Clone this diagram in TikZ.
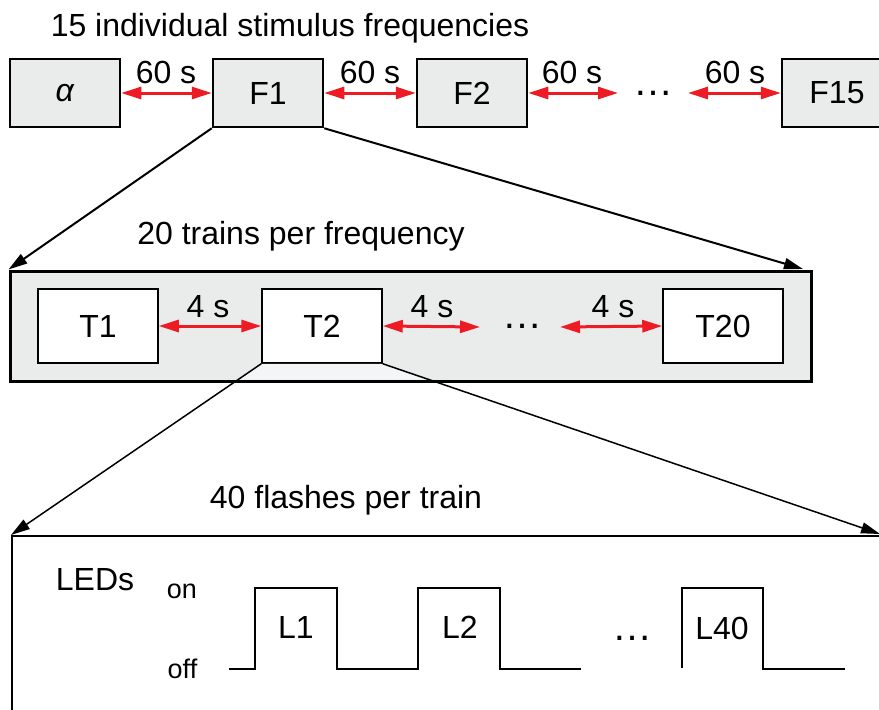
\documentclass[tikz,border=0pt]{standalone}
\usepackage{fontspec}
\setmainfont{Liberation Sans}
\usetikzlibrary{arrows.meta}
\definecolor{boxgray}{RGB}{234,235,235}
\definecolor{lightgray2}{RGB}{244,245,246}
\definecolor{arrred}{RGB}{237,28,36}
\begin{document}
\begin{tikzpicture}[x=1pt,y=-1pt,
  txt/.style={font=\fontsize{32}{38}\selectfont, inner sep=0pt},
  small/.style={font=\fontsize{27}{32}\selectfont, inner sep=0pt},
  dotsty/.style={font=\fontsize{40}{46}\selectfont, inner sep=0pt},
  fbox/.style={draw, line width=2.5pt, fill=boxgray, minimum width=110pt, minimum height=68pt, inner sep=0pt, font=\fontsize{32}{38}\selectfont},
  tbox/.style={draw, line width=1.5pt, fill=white, minimum width=120pt, minimum height=74pt, inner sep=0pt, font=\fontsize{32}{38}\selectfont},
  redarr/.style={draw=arrred, line width=3pt, {Triangle[length=20pt,width=12pt]}-{Triangle[length=20pt,width=12pt]}},
  zoomarr/.style={draw=black, -{Triangle[length=19pt,width=11pt]}},
  pulse/.style={line width=2.5pt, line join=miter}
]
\useasboundingbox (0,0) rectangle (879,710);
\clip (0,0) rectangle (879,710);

% ---------- top row ----------
\node[txt, anchor=base] (title1) at (290,36) {15 individual stimulus frequencies};
\node[fbox] (alpha) at (65,93) {\textit{α}};
\node[fbox] (F1) at (268,93) {F1};
\node[fbox] (F2) at (472,93) {F2};
\node[fbox] (F15) at (837,93) {F15};
\coordinate (d1l) at (618,93);
\coordinate (d1r) at (688,93);
\node[dotsty] (dots1) at (653,93) {…};
\draw[redarr] (alpha.east) -- (F1.west);
\draw[redarr] (F1.east) -- (F2.west);
\draw[redarr] (F2.east) -- (d1l);
\draw[redarr] (d1r) -- (F15.west);
\node[txt, anchor=base] (s1) at (166,83) {60 s};
\node[txt, anchor=base] (s2) at (370,83) {60 s};
\node[txt, anchor=base] (s3) at (572,83) {60 s};
\node[txt, anchor=base] (s4) at (735,83) {60 s};

% ---------- middle row ----------
\node[txt, anchor=base] (title2) at (301,244) {20 trains per frequency};
\node[draw, line width=3pt, fill=boxgray, minimum width=801pt, minimum height=110pt, inner sep=0pt] (trains) at (410.5,326) {};
\coordinate (tipR1) at (803,269);
\draw[zoomarr, line width=2pt] (F1.south west) -- (trains.north west);
\draw[zoomarr, line width=2pt] (F1.south east) -- (tipR1);

\node[tbox] (T1) at (98,326) {T1};
\node[tbox] (T2) at (322,326) {T2};
\node[tbox] (T20) at (723,326) {T20};
\fill[lightgray2] (T2.south west) -- (T2.south east) -- (430.8,379.5) -- (237.6,379.5) -- cycle;
\coordinate (d2l) at (480,327);
\coordinate (d2r) at (560,327);
\node[dotsty] (dots2) at (522,326) {…};
\draw[redarr] (T1.east) -- (T2.west);
\draw[redarr] (T2.east) -- (d2l);
\draw[redarr] (d2r) -- (T20.west);
\node[txt, anchor=base] (q1) at (208,317) {4 s};
\node[txt, anchor=base] (q2) at (432,317) {4 s};
\node[txt, anchor=base] (q3) at (613,317) {4 s};

% ---------- bottom ----------
\node[txt, anchor=base] (title3) at (346,508) {40 flashes per train};
\node[draw, line width=1.5pt, fill=white, minimum width=889pt, minimum height=200pt, inner sep=0pt, anchor=north west] (flash) at (11,535) {};
\coordinate (tipR2) at (880,534);
\draw[zoomarr, line width=1.5pt] (T2.south west) -- (flash.north west);
\draw[zoomarr, line width=1.5pt] (T2.south east) -- (tipR2);

\node[txt, anchor=base] (leds) at (95,590) {LEDs};
\node[small, anchor=base] (on) at (182,598) {on};
\node[small, anchor=base] (off) at (182.5,678) {off};

\draw[pulse] (229,669) -- (255,669) -- (255,588) -- (337,588) -- (337,669)
  -- (418,669) -- (418,588) -- (500,588) -- (500,669) -- (581,669);
\draw[pulse] (682,668) -- (682,588) -- (763,588) -- (763,669) -- (845,669);
\node[txt] (L1) at (296,627) {L1};
\node[txt] (L2) at (460,627) {L2};
\node[txt] (L40) at (722,628) {L40};
\node[dotsty] (dots3) at (632,638) {…};
\end{tikzpicture}
\end{document}
